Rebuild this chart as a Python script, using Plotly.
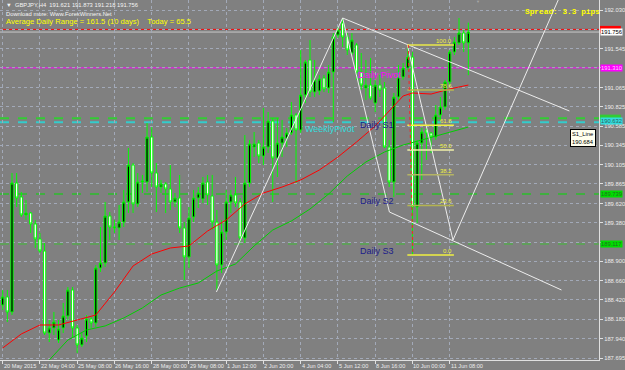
import plotly.graph_objects as go

# ---------------- data ----------------
bars = list(range(101))
opens = [188.357, 188.457, 188.270, 189.876, 189.702, 189.478, 189.503, 189.366, 189.179, 189.029,
         188.008, 188.071, 187.920, 188.071, 188.220, 188.544, 188.071, 187.859, 187.971, 188.183,
         188.133, 188.818, 188.880, 189.465, 189.316, 189.316, 189.390, 189.640, 190.100, 189.615,
         189.889, 189.889, 190.449, 190.001, 189.826, 189.864, 189.801, 189.640, 189.689, 189.316,
         188.955, 189.453, 189.689, 189.677, 189.889, 189.714, 189.390, 188.855, 189.266, 189.640,
         189.727, 189.640, 189.191, 189.876, 190.324, 190.374, 190.212, 190.324, 190.648, 190.187,
         190.374, 190.436, 190.499, 190.723, 190.536, 190.972, 191.408, 191.009, 191.022, 191.184,
         191.059, 191.258, 191.719, 191.869, 191.694, 191.495, 191.595, 191.258, 191.059, 191.096,
         190.872, 191.096, 191.059, 190.324, 189.889, 190.947, 191.196, 191.308, 191.445, 189.577,
         190.374, 190.536, 190.499, 190.449, 190.723, 190.823, 191.134, 191.507, 191.620, 191.744,
         191.621]
highs = [188.544, 188.544, 190.001, 190.001, 189.764, 189.664, 189.515, 189.415, 189.254, 189.129,
         188.170, 188.270, 188.170, 188.382, 188.581, 188.581, 188.108, 188.008, 188.232, 188.207,
         188.855, 189.328, 189.640, 189.515, 189.415, 189.602, 189.789, 190.312, 190.125, 190.001,
         189.976, 190.623, 190.573, 190.125, 189.914, 189.889, 190.100, 189.752, 189.976, 189.390,
         189.577, 189.789, 189.826, 189.951, 189.976, 189.976, 189.540, 189.415, 189.789, 189.789,
         189.951, 189.689, 190.474, 190.412, 190.511, 190.412, 190.810, 190.760, 190.686, 190.686,
         190.661, 190.561, 190.885, 190.748, 191.532, 191.408, 191.657, 191.408, 191.221, 191.221,
         191.346, 191.744, 191.819, 191.931, 191.744, 191.744, 191.620, 191.495, 191.408, 191.433,
         191.184, 191.221, 191.134, 190.412, 190.997, 191.346, 191.370, 191.595, 191.507, 190.412,
         190.561, 190.561, 190.511, 190.847, 190.947, 191.159, 191.532, 191.694, 191.931, 191.781,
         191.873]
lows = [188.295, 188.145, 188.232, 189.577, 189.453, 189.415, 189.254, 189.067, 189.004, 187.983,
        187.896, 187.983, 187.884, 188.008, 188.170, 187.959, 187.759, 187.834, 187.896, 188.071,
        188.083, 188.768, 188.830, 189.166, 189.254, 189.166, 189.328, 189.503, 189.503, 189.577,
        189.752, 189.764, 189.826, 189.515, 189.752, 189.503, 189.540, 189.577, 189.254, 188.668,
        188.818, 189.390, 189.565, 189.627, 189.602, 189.291, 188.544, 188.755, 189.166, 189.503,
        189.577, 189.141, 189.129, 189.826, 190.200, 190.125, 190.100, 190.250, 189.640, 189.951,
        190.200, 190.324, 190.474, 189.876, 190.499, 190.872, 190.947, 190.947, 190.972, 191.009,
        190.997, 190.636, 191.682, 191.570, 191.470, 191.470, 191.159, 191.034, 190.910, 190.910,
        190.760, 190.947, 190.310, 189.826, 189.702, 190.910, 191.159, 191.283, 188.980, 189.378,
        189.914, 190.163, 190.250, 190.412, 190.661, 190.785, 191.096, 191.470, 191.595, 191.507,
        191.218]
closes = [188.457, 188.270, 189.876, 189.689, 189.478, 189.503, 189.366, 189.179, 189.029, 188.008,
          188.071, 188.145, 188.058, 188.220, 188.544, 188.071, 187.859, 187.946, 188.183, 188.133,
          188.818, 188.880, 189.465, 189.328, 189.328, 189.390, 189.640, 190.100, 189.615, 189.889,
          189.901, 190.449, 190.001, 189.826, 189.864, 189.801, 189.640, 189.689, 189.316, 188.955,
          189.440, 189.689, 189.752, 189.876, 189.727, 189.390, 188.855, 189.266, 189.640, 189.727,
          189.627, 189.191, 189.876, 190.362, 190.362, 190.212, 190.324, 190.648, 190.187, 190.374,
          190.449, 190.499, 190.723, 190.536, 190.972, 191.383, 191.009, 191.159, 191.171, 191.047,
          191.258, 191.694, 191.781, 191.694, 191.532, 191.657, 191.258, 191.096, 191.096, 190.935,
          191.096, 191.034, 190.324, 189.889, 190.947, 191.196, 191.308, 191.445, 189.577, 190.374,
          190.511, 190.499, 190.449, 190.723, 190.823, 191.134, 191.507, 191.632, 191.744, 191.620,
          191.756]

tick_bars = [0, 8, 16, 24, 32, 40, 48, 56, 64, 72, 80, 88, 96]
tick_labels = ["20 May 2015", "22 May 04:00", "25 May 08:00", "26 May 16:00", "28 May 00:00",
               "29 May 08:00", "1 Jun 12:00", "2 Jun 20:00", "4 Jun 04:00", "5 Jun 12:00",
               "8 Jun 16:00", "10 Jun 00:00", "11 Jun 08:00"]
price_ticks = [192.030, 191.790, 191.545, 191.310, 191.065, 190.825, 190.585, 190.345, 190.105,
               189.865, 189.620, 189.380, 189.140, 188.900, 188.660, 188.420, 188.180, 187.940, 187.695]
# tick labels covered by the coloured price boxes in the reference
hidden_ticks = [191.790, 191.310, 189.140]

ma_red_bars = [0, 4, 8, 12, 16, 20, 24, 28, 32, 36, 40, 44, 48, 52, 56, 60, 64, 68, 72, 76, 80, 84, 86, 88, 92, 96, 100]
ma_red_vals = [187.821, 187.996, 188.108, 188.108, 188.170, 188.232, 188.519, 188.843, 188.992, 189.067,
               189.092, 189.278, 189.415, 189.615, 189.752, 189.826, 189.914, 190.038, 190.200, 190.387,
               190.586, 190.835, 190.960, 190.997, 190.984, 191.047, 191.096]
ma_green_bars = [10, 14, 18, 22, 26, 30, 34, 38, 42, 46, 50, 54, 58, 62, 66, 70, 74, 78, 82, 86, 90, 94, 98, 100]
ma_green_vals = [187.672, 187.921, 188.046, 188.096, 188.195, 188.320, 188.481, 188.568, 188.631, 188.780,
                 188.868, 189.092, 189.291, 189.403, 189.552, 189.739, 189.963, 190.138, 190.262, 190.349,
                 190.412, 190.474, 190.536, 190.573]

# hand-drawn trend lines: (start bar, start price, end bar, end price)
trend_lines = [
    (45.9, 188.519, 73.0, 191.931),
    (73.0, 191.931, 121.7, 190.773),
    (73.0, 191.931, 83.05, 189.515),
    (83.05, 189.515, 120.0, 188.544),
    (86.9, 191.595, 96.7, 189.166),
    (96.7, 189.166, 119.3, 192.155),
]

fib_high = 191.595
fib_low = 188.980
fib_start_bar = 86.9
fib_end_bar = 96.9
fib_levels = [100.0, 78.6, 61.8, 50.0, 38.2, 23.6, 0.0]
fib_colors = ["#e8e84a", "#b8b850", "#f0f040", "#f0f0a8", "#b4b464", "#b4b450", "#f0f040"]

ask_price = 191.789
bid_price = 191.756
daily_pivot = 191.310
daily_s1 = 190.684
weekly_pivot = 190.632
daily_s2 = 189.739
daily_s3 = 189.117

Y0, Y1 = 187.672, 192.155
X0, X1 = -0.576, 128.06
FONT = "Liberation Sans, Arial, sans-serif"

fig = go.Figure()

fig.add_trace(go.Candlestick(
    x=bars, open=opens, high=highs, low=lows, close=closes,
    increasing=dict(line=dict(color="#00ff00", width=1), fillcolor="#000000"),
    decreasing=dict(line=dict(color="#00ff00", width=1), fillcolor="#ffffff"),
    whiskerwidth=0, hoverinfo="skip"))

fig.add_trace(go.Scatter(x=ma_red_bars, y=ma_red_vals, mode="lines",
                         line=dict(color="#ff0000", width=1), hoverinfo="skip"))
fig.add_trace(go.Scatter(x=ma_green_bars, y=ma_green_vals, mode="lines",
                         line=dict(color="#00d000", width=1), hoverinfo="skip"))

tx, ty = [], []
for (b0, p0, b1, p1) in trend_lines:
    tx += [b0, b1, None]
    ty += [p0, p1, None]
fig.add_trace(go.Scatter(x=tx, y=ty, mode="lines", line=dict(color="#ececec", width=1),
                         hoverinfo="skip", cliponaxis=True))

shapes = []
def hline(y, color, width=1, dash="solid"):
    shapes.append(dict(type="line", xref="paper", x0=0, x1=1, yref="y", y0=y, y1=y,
                       line=dict(color=color, width=width, dash=dash), layer="below"))

hline(daily_s3, "#5f9f5a", 2, "dash")
hline(daily_s2, "#00dd00", 1, "dash")
hline(daily_s1, "#33cc33", 2, "dash")
hline(weekly_pivot, "#33cccc", 2, "dash")
hline(daily_pivot, "#ff00ff", 1)
hline(bid_price, "#c8c8c8", 1)
hline(ask_price, "#ff0000", 1)

for lvl, col in zip(fib_levels, fib_colors):
    p = fib_low + (fib_high - fib_low) * lvl / 100.0
    shapes.append(dict(type="line", xref="x", yref="y", x0=fib_start_bar, x1=fib_end_bar, y0=p, y1=p,
                       line=dict(color=col, width=1.5)))
shapes.append(dict(type="line", xref="x", yref="y", x0=87.1, x1=88.1, y0=fib_high, y1=fib_low,
                   line=dict(color="#ff2020", width=1, dash="dot")))

PW, PH = 603.0, 360.0
dy = (Y1 - Y0) / PH
def bare_box(p, color):
    shapes.append(dict(type="rect", xref="paper", yref="y", x0=1 + 1 / PW, x1=1 + 22 / PW,
                       y0=p - 3.5 * dy, y1=p + 3.5 * dy, fillcolor=color, line=dict(width=0)))
bare_box(ask_price, "#ff0000")
bare_box(daily_s1, "#33cc33")

ann = []
for lvl, col in zip(fib_levels, fib_colors):
    p = fib_low + (fib_high - fib_low) * lvl / 100.0
    ann.append(dict(x=fib_end_bar, y=p, xref="x", yref="y", text=f"{lvl:.1f}", showarrow=False,
                    xanchor="right", yanchor="bottom", yshift=-1,
                    font=dict(family=FONT, size=6, color="#f0f040")))

def lvl_text(bar, price, text, color):
    ann.append(dict(x=bar, y=price, xref="x", yref="y", text=text, showarrow=False,
                    xanchor="left", yanchor="top", yshift=0,
                    font=dict(family=FONT, size=9, color=color)))

lvl_text(75.9, daily_pivot, "Daily Pivot", "#ff00ff")
lvl_text(76.2, daily_s1, "Daily S1", "#1c1c8a")
lvl_text(64.5, weekly_pivot, "WeeklyPivot", "#33dddd")
lvl_text(76.2, daily_s2, "Daily S2", "#1c1c8a")
lvl_text(76.2, daily_s3, "Daily S3", "#1c1c8a")

for b, t in zip(tick_bars, tick_labels):
    ann.append(dict(x=b, y=0, xref="x", yref="paper", text=t, showarrow=False,
                    xanchor="left", yanchor="top", yshift=-0.5, xshift=-1,
                    font=dict(family=FONT, size=5.6, color="#ececec")))

def price_box(p, bg, fg, shift=0):
    ann.append(dict(x=1, y=p, xref="paper", yref="y", text=f"{p:.3f}", showarrow=False,
                    xanchor="left", yanchor="middle", xshift=1, yshift=shift, bgcolor=bg, borderpad=0,
                    width=21, align="left",
                    font=dict(family=FONT, size=5.8, color=fg)))

price_box(bid_price, "#ffffff", "#000000")
price_box(daily_pivot, "#ff00ff", "#ffd0ff")
price_box(weekly_pivot, "#33dddd", "#306060", shift=1.5)
price_box(daily_s2, "#00dd00", "#207020")
price_box(daily_s3, "#00dd00", "#207020")

def px(x): return x / PW
def py(y): return 1 - y / PH

ann.append(dict(x=px(4), y=py(5), xref="paper", yref="paper", showarrow=False, xanchor="left",
                yanchor="middle", text="▼  GBPJPY,H4  191.621 191.873 191.218 191.756",
                font=dict(family=FONT, size=5.8, color="#f4f4f4")))
ann.append(dict(x=px(4), y=py(14), xref="paper", yref="paper", showarrow=False, xanchor="left",
                yanchor="middle", text="Download more: Www.ForexWinners.Net",
                font=dict(family=FONT, size=5.8, color="#f4f4f4")))
ann.append(dict(x=px(4), y=py(21.5), xref="paper", yref="paper", showarrow=False, xanchor="left",
                yanchor="middle", text="Average Daily Range = 161.5 (10 days)    Today = 65.5",
                font=dict(family=FONT, size=7.6, color="#ffff00")))
ann.append(dict(x=px(526), y=py(12), xref="paper", yref="paper", showarrow=False, xanchor="left",
                yanchor="middle", text="<b>Spread: 3.3 pips</b>",
                font=dict(family="Liberation Mono, Courier New, monospace", size=7.8, color="#ffff00")))
ann.append(dict(x=px(481), y=py(1.5), xref="paper", yref="paper", showarrow=False, xanchor="center",
                yanchor="middle", text="▼", font=dict(family=FONT, size=4, color="#a8a8a8")))
ann.append(dict(x=px(574), y=py(129), xref="paper", yref="paper", showarrow=False, xanchor="left",
                yanchor="top", text="S1_Line<br>190.684", align="left",
                bgcolor="#ffffee", bordercolor="#000000", borderwidth=1, borderpad=1,
                font=dict(family=FONT, size=5.8, color="#000000")))

fig.update_layout(
    width=625, height=370, margin=dict(l=0, r=22, t=0, b=10),
    paper_bgcolor="#808080", plot_bgcolor="#808080", showlegend=False,
    shapes=shapes, annotations=ann, hovermode=False,
    xaxis=dict(range=[X0, X1], tickvals=tick_bars, showticklabels=False, ticks="outside",
               ticklen=3, tickcolor="#e0e0e0", showgrid=True, gridcolor="#a2a9b8", griddash="dot",
               gridwidth=1, showline=True, linecolor="#e0e0e0", linewidth=1, zeroline=False,
               rangeslider=dict(visible=False), fixedrange=True),
    yaxis=dict(range=[Y0, Y1], side="right", tickvals=price_ticks,
               ticktext=["" if v in hidden_ticks else f"{v:.3f}" for v in price_ticks],
               ticks="outside", ticklen=3,
               tickcolor="#e0e0e0", tickfont=dict(family=FONT, size=5.8, color="#ececec"),
               showgrid=True, gridcolor="#a2a9b8", griddash="dot", gridwidth=1,
               showline=True, linecolor="#e0e0e0", linewidth=1, zeroline=False, fixedrange=True),
)

fig.write_html("out.html")
